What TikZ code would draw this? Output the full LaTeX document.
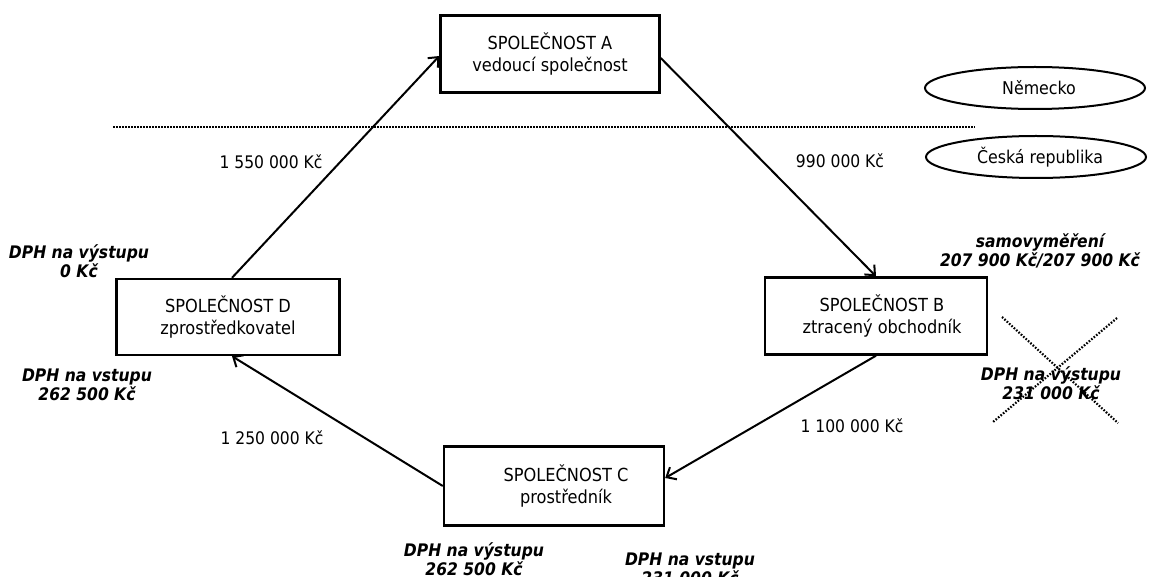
\documentclass[tikz,border=0pt]{standalone}
\usepackage{fontspec}
\setmainfont{DejaVu Sans Condensed}
\usetikzlibrary{arrows.meta,shapes.geometric}
\begin{document}
\begin{tikzpicture}[x=1pt,y=1pt,
  company/.style={draw,line width=2.4pt,minimum width=219pt,minimum height=77pt,align=center,font=\fontsize{18}{22.5}\selectfont},
  country/.style={draw,ellipse,line width=2pt,minimum width=220pt,minimum height=42pt,inner sep=0pt,font=\fontsize{17.6}{20}\selectfont},
  flow/.style={line width=2pt,-{Straight Barb[length=8pt,width=14pt,line width=2pt]}},
  amount/.style={font=\fontsize{17.3}{20}\selectfont},
  vat/.style={align=center,font=\fontsize{17.3}{19.5}\selectfont\bfseries\itshape},
  cross/.style={line width=2.2pt,dash pattern=on 1.6pt off 1.6pt}
]
\useasboundingbox (0,0) rectangle (1151,576);
\node[company] (A) at (550,522) {SPOLEČNOST A\\vedoucí společnost};
\node[company,minimum width=222pt] (B) at (876,260) {\hspace*{12pt}SPOLEČNOST B\\\hspace*{12pt}ztracený obchodník};
\node[company,minimum width=220pt,minimum height=79pt] (C) at (554,90) {};
\node[align=center,font=\fontsize{18}{22.5}\selectfont] (Ct) at (566,90) {SPOLEČNOST C\\prostředník};
\node[company,minimum width=223pt,minimum height=76pt] (D) at (228,259) {SPOLEČNOST D\\zprostředkovatel};
\coordinate (L1) at (113,449);
\coordinate (L2) at (975,449);
\draw[line width=2pt,dash pattern=on 1.5pt off 1.5pt] (L1) -- (L2);
\node[country] (G) at (1035,488) {\hspace*{8pt}Německo};
\node[country] (CZ) at (1036,419) {\hspace*{8pt}Česká republika};
\draw[flow] ([xshift=4pt]D.north) -- ([yshift=-2pt]A.west);
\draw[flow] ([yshift=-4pt]A.east) -- (B.north);
\draw[flow] (B.south) -- ([yshift=8pt]C.east);
\draw[flow] (C.west) -- ([xshift=4pt]D.south);
\node[amount] (a1) at (271,414) {1 550 000 Kč};
\node[amount] (a2) at (840,415) {990 000 Kč};
\node[amount] (a3) at (852,150) {1 100 000 Kč};
\node[amount] (a4) at (272,138) {1 250 000 Kč};
\node[vat] (v1) at (79,315) {DPH na výstupu\\0 Kč};
\node[vat] (v2) at (87,191) {DPH na vstupu\\262 500 Kč};
\node[vat] (v3) at (1040,325) {samovyměření\\207 900 Kč/207 900 Kč};
\node[vat] (v4) at (1051,193) {DPH na výstupu\\231 000 Kč};
\node[vat] (v5) at (474,17) {DPH na výstupu\\262 500 Kč};
\node[vat] (v6) at (690,7) {DPH na vstupu\\231 000 Kč};
\coordinate (x1) at (1002,259);
\coordinate (x2) at (1118,153);
\coordinate (x3) at (1117,258);
\coordinate (x4) at (993,154);
\draw[cross] (x1) -- (x2);
\draw[cross] (x3) -- (x4);
\end{tikzpicture}
\end{document}
